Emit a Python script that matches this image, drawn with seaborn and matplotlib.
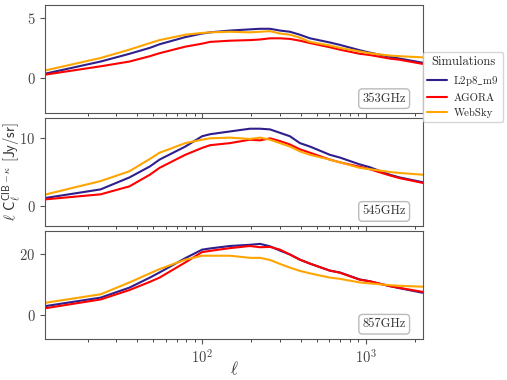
import numpy as np
import pandas as pd
import matplotlib
matplotlib.use('Agg')
import matplotlib.pyplot as plt
import seaborn as sns

# multipoles
ell = [11, 24, 36, 48, 55, 79, 100, 112, 148, 196, 226, 260, 299, 344,
       396, 456, 603, 694, 918, 1056, 1399, 1610, 2228]

freqs = ['353GHz', '545GHz', '857GHz']
sims = ['L2p8_m9', 'AGORA', 'WebSky']

l2p8_353 = [0.33, 1.35, 2.0, 2.5, 2.8, 3.4, 3.7, 3.8, 3.95, 4.05, 4.1, 4.1, 3.95,
            3.85, 3.6, 3.3, 2.95, 2.75, 2.3, 2.1, 1.75, 1.6, 1.25]
agora_353 = [0.25, 0.95, 1.35, 1.8, 2.05, 2.6, 2.85, 3.0, 3.1, 3.15, 3.2, 3.3, 3.3,
             3.25, 3.1, 2.9, 2.55, 2.35, 2.0, 1.9, 1.6, 1.5, 1.15]
websky_353 = [0.6, 1.65, 2.35, 2.9, 3.15, 3.6, 3.75, 3.8, 3.85, 3.8, 3.85, 3.9, 3.7,
              3.6, 3.35, 3.0, 2.7, 2.5, 2.2, 2.05, 1.85, 1.8, 1.7]

l2p8_545 = [1.2, 2.46, 4.2, 5.8, 6.8, 8.7, 10.2, 10.5, 10.9, 11.3, 11.3, 11.2, 10.7,
            10.2, 9.2, 8.7, 7.5, 7.1, 6.1, 5.7, 4.6, 4.2, 3.5]
agora_545 = [1.0, 1.74, 2.9, 4.6, 5.6, 7.5, 8.5, 8.9, 9.2, 9.7, 9.6, 9.9, 9.5,
             9.0, 8.3, 7.8, 6.8, 6.4, 5.75, 5.4, 4.5, 4.1, 3.4]
websky_545 = [1.7, 3.67, 5.1, 6.9, 7.8, 9.2, 9.7, 9.9, 10.0, 9.8, 10.0, 9.7, 9.2,
              8.7, 8.0, 7.5, 6.8, 6.4, 5.6, 5.4, 5.0, 4.85, 4.6]

l2p8_857 = [2.8, 5.6, 8.9, 12.2, 13.9, 18.6, 21.4, 21.8, 22.6, 23.0, 23.3, 22.5, 21.1,
            19.8, 18.1, 16.8, 14.5, 13.9, 11.6, 11.0, 9.4, 8.7, 7.2]
agora_857 = [2.1, 5.0, 8.1, 10.8, 12.2, 17.2, 20.6, 21.0, 21.9, 22.6, 22.2, 22.3, 21.4,
             19.8, 18.1, 16.8, 14.5, 13.8, 11.5, 11.0, 9.4, 8.8, 7.5]
websky_857 = [3.9, 6.7, 10.6, 13.6, 15.0, 18.1, 19.4, 19.4, 19.4, 18.7, 18.7, 18.0, 16.7,
              15.5, 14.4, 13.6, 12.2, 11.8, 10.6, 10.3, 9.7, 9.5, 9.2]

values = {
    '353GHz': [l2p8_353, agora_353, websky_353],
    '545GHz': [l2p8_545, agora_545, websky_545],
    '857GHz': [l2p8_857, agora_857, websky_857],
}
ylims = {'353GHz': (-3.0, 6.1), '545GHz': (-2.9, 12.9), '857GHz': (-8.0, 27.7)}
yticks = {'353GHz': [0, 5], '545GHz': [0, 10], '857GHz': [0, 20]}

colors = {'L2p8_m9': '#2e1f8c', 'AGORA': '#ff0000', 'WebSky': '#ffa500'}
labels = {'L2p8_m9': r'L2p8$\_$m9', 'AGORA': 'AGORA', 'WebSky': 'WebSky'}

rows = []
for f in freqs:
    for s, vals in zip(sims, values[f]):
        for l, v in zip(ell, vals):
            rows.append({'freq': f, 'sim': s, 'ell': l, 'val': v})
df = pd.DataFrame(rows)

sns.set_style('ticks')
plt.rcParams['font.family'] = 'serif'
plt.rcParams['font.serif'] = ['cmr10', 'DejaVu Serif']
plt.rcParams['mathtext.fontset'] = 'cm'
plt.rcParams['axes.formatter.use_mathtext'] = True
plt.rcParams['axes.unicode_minus'] = False

fig, axes = plt.subplots(3, 1, figsize=(5.07, 3.8), dpi=100, sharex=True)
fig.subplots_adjust(left=0.089, right=0.834, top=0.987, bottom=0.108, hspace=0.04)

for ax, f in zip(axes, freqs):
    sns.lineplot(data=df[df.freq == f], x='ell', y='val', hue='sim',
                 palette=colors, hue_order=sims, linewidth=1.5, ax=ax, legend=False)
    ax.set_xscale('log')
    ax.set_xlim(11, 2230)
    ax.set_ylim(*ylims[f])
    ax.set_yticks(yticks[f])
    ax.set_xlabel('')
    ax.set_ylabel('')
    for sp in ax.spines.values():
        sp.set_color('#555555')
    ax.tick_params(colors='#555555', labelcolor='#444444', labelsize=10.5)
    ax.text(0.955, 0.08, f, transform=ax.transAxes, ha='right', va='bottom',
            fontsize=9, color='#333333',
            bbox=dict(boxstyle='round,pad=0.3', fc='white', ec='#bbbbbb'))

axes[-1].set_xlabel(r'$\ell$', fontsize=12, color='#333333')
axes[-1].xaxis.set_label_coords(0.5, -0.19)
axes[1].set_ylabel(r'$\ell\ \mathsf{C}_\ell^{\mathsf{CIB}-\kappa}\ [\mathsf{Jy/sr}]$',
                   fontsize=10.5, color='#333333')
axes[1].yaxis.set_label_coords(-0.058, 0.5)

handles = [plt.Line2D([], [], color=colors[s], lw=1.5) for s in sims]
leg = fig.legend(handles, [labels[s] for s in sims], title='Simulations',
                 loc='center left', bbox_to_anchor=(0.830, 0.771), fontsize=7.8,
                 title_fontsize=9, frameon=True, handlelength=1.8,
                 handletextpad=0.6, borderpad=0.4, borderaxespad=0.2)
leg.get_frame().set_edgecolor('#cccccc')

fig.savefig('out.png', dpi=100)
